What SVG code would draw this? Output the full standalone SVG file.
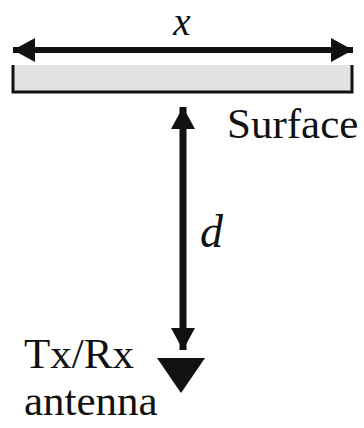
<svg xmlns="http://www.w3.org/2000/svg" width="364" height="428" viewBox="0 0 364 428">
<style>
text{font-family:'Liberation Serif','DejaVu Serif',serif;fill:#111}
.i{font-style:italic}
.ln{stroke:#111;fill:none}
</style>
<defs>
<marker id="ah" markerUnits="userSpaceOnUse" markerWidth="24" markerHeight="26" refX="22" refY="12" orient="auto-start-reverse" viewBox="0 0 24 24">
<path d="M0,0 L22,12 L0,24 Z" fill="#111"/>
</marker>
</defs>
<rect width="364" height="428" fill="#fff"/>
<g id="surface">
<rect x="13" y="65" width="339" height="27" fill="#e2e2e2"/>
<path class="ln" stroke-width="3" d="M13,65 V92 H352 V65"/>
<text x="227" y="138" font-size="43">Surface</text>
</g>
<g id="antenna">
<path d="M157,358 H205 L181,393 Z" fill="#111"/>
<text x="24" y="368" font-size="43">Tx/Rx</text>
<text x="24" y="415" font-size="43">antenna</text>
</g>
<g id="connectors">
<line class="ln" stroke-width="6" x1="13" y1="50" x2="353" y2="50" marker-start="url(#ah)" marker-end="url(#ah)"/>
<line class="ln" stroke-width="7" x1="183" y1="107" x2="183" y2="350" marker-start="url(#ah)" marker-end="url(#ah)"/>
</g>
<g id="labels">
<text class="i" x="182" y="35" font-size="39" text-anchor="middle">x</text>
<text class="i" x="200" y="247" font-size="46">d</text>
</g>
</svg>
